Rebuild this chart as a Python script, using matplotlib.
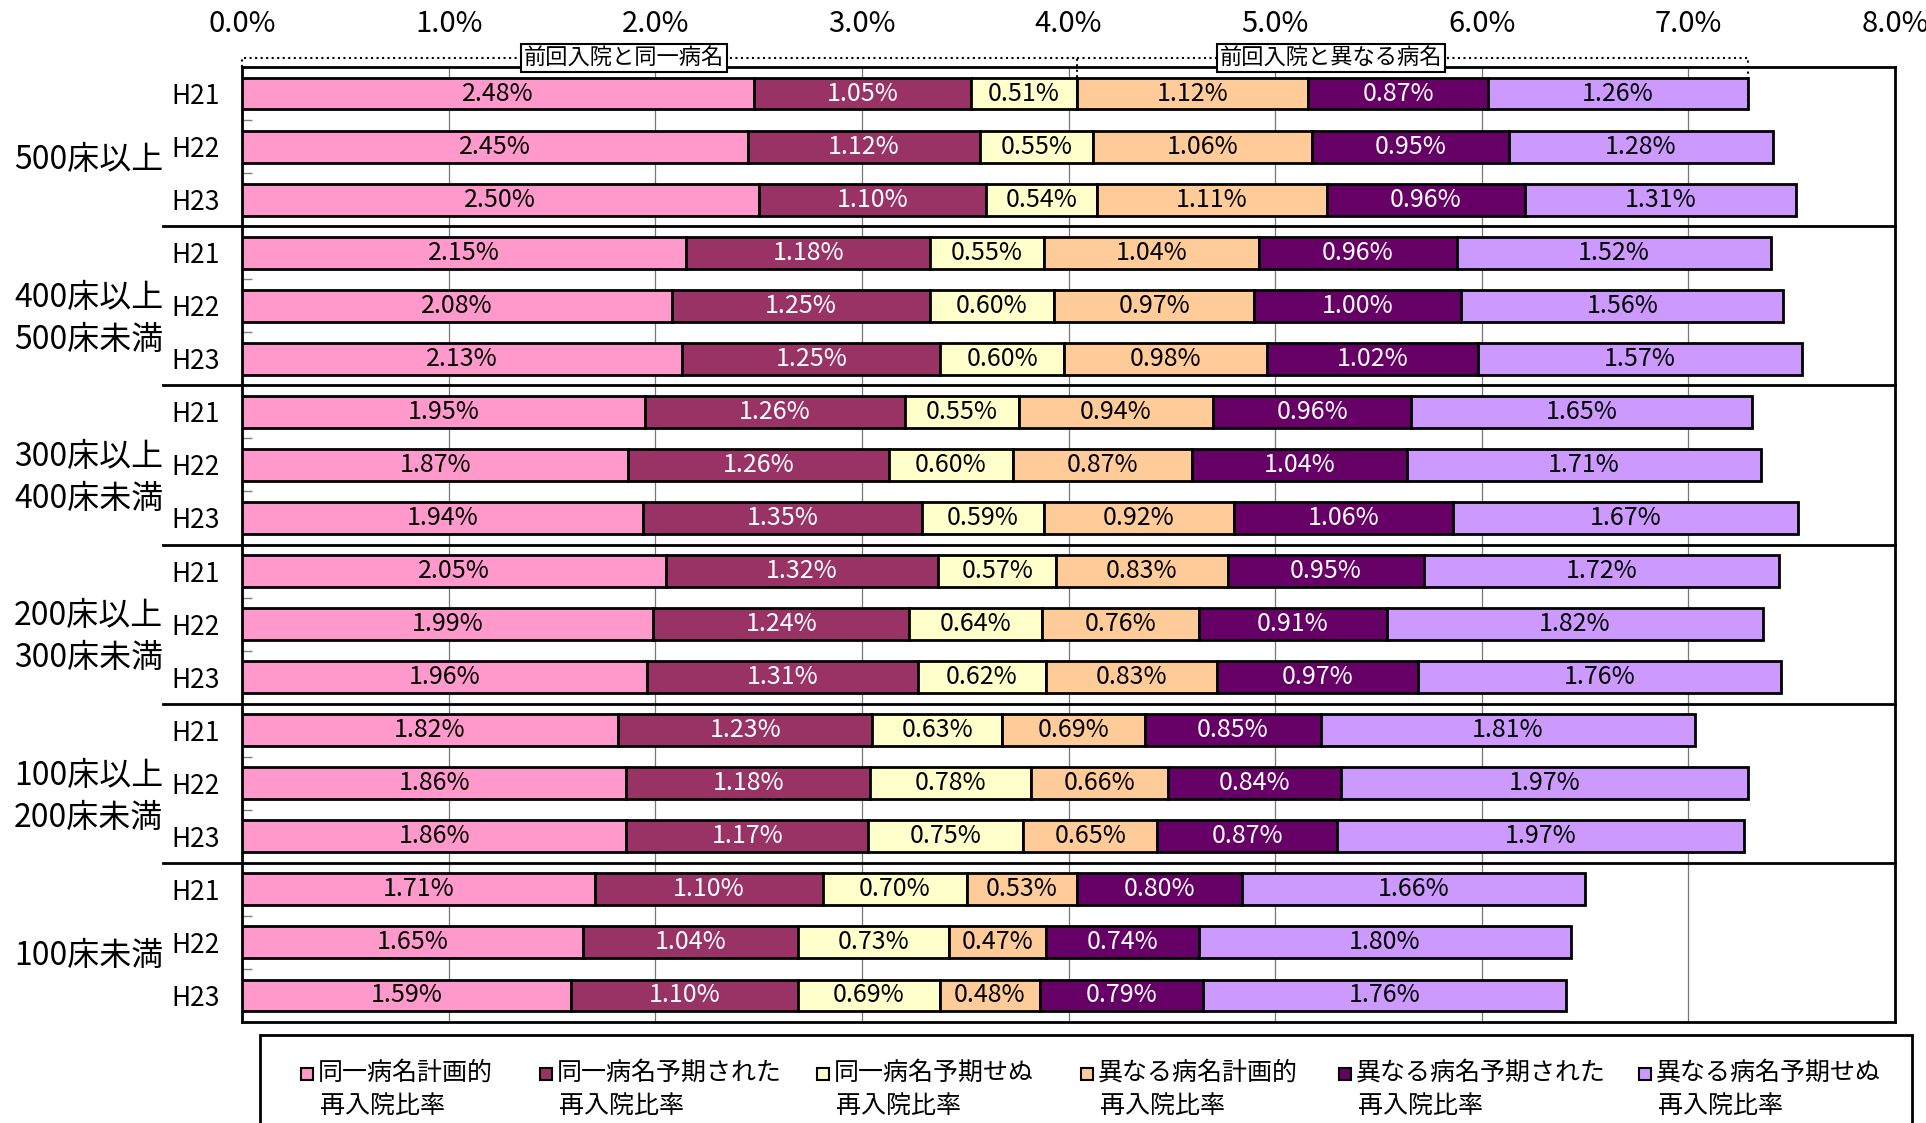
import numpy as np
import matplotlib as mpl
mpl.use('Agg')
import matplotlib.pyplot as plt
from matplotlib import font_manager
from matplotlib.patches import Rectangle

installed = {f.name for f in font_manager.fontManager.ttflist}
NARROW = 'Liberation Sans Narrow' if 'Liberation Sans Narrow' in installed else 'Noto Sans CJK JP'
plt.rcParams['font.family'] = ['Noto Sans CJK JP', 'DejaVu Sans']

groups = ['500床以上', '400床以上\n500床未満', '300床以上\n400床未満',
          '200床以上\n300床未満', '100床以上\n200床未満', '100床未満']
years = ['H21', 'H22', 'H23']
series = ['同一病名計画的\n再入院比率', '同一病名予期された\n再入院比率',
          '同一病名予期せぬ\n再入院比率', '異なる病名計画的\n再入院比率',
          '異なる病名予期された\n再入院比率', '異なる病名予期せぬ\n再入院比率']
colors = ['#FF99CC', '#993366', '#FFFFCC', '#FFCC99', '#660066', '#CC99FF']
text_colors = ['black', 'white', 'black', 'black', 'white', 'black']

# rows: each group H21, H22, H23 (values in %)
same_planned    = [2.48, 2.45, 2.50, 2.15, 2.08, 2.13, 1.95, 1.87, 1.94,
                   2.05, 1.99, 1.96, 1.82, 1.86, 1.86, 1.71, 1.65, 1.59]
same_expected   = [1.05, 1.12, 1.10, 1.18, 1.25, 1.25, 1.26, 1.26, 1.35,
                   1.32, 1.24, 1.31, 1.23, 1.18, 1.17, 1.10, 1.04, 1.10]
same_unexpected = [0.51, 0.55, 0.54, 0.55, 0.60, 0.60, 0.55, 0.60, 0.59,
                   0.57, 0.64, 0.62, 0.63, 0.78, 0.75, 0.70, 0.73, 0.69]
diff_planned    = [1.12, 1.06, 1.11, 1.04, 0.97, 0.98, 0.94, 0.87, 0.92,
                   0.83, 0.76, 0.83, 0.69, 0.66, 0.65, 0.53, 0.47, 0.48]
diff_expected   = [0.87, 0.95, 0.96, 0.96, 1.00, 1.02, 0.96, 1.04, 1.06,
                   0.95, 0.91, 0.97, 0.85, 0.84, 0.87, 0.80, 0.74, 0.79]
diff_unexpected = [1.26, 1.28, 1.31, 1.52, 1.56, 1.57, 1.65, 1.71, 1.67,
                   1.72, 1.82, 1.76, 1.81, 1.97, 1.97, 1.66, 1.80, 1.76]
values = np.array([same_planned, same_expected, same_unexpected,
                   diff_planned, diff_expected, diff_unexpected])

W, H = 1926, 1123
fig = plt.figure(figsize=(W/100, H/100), dpi=100)
ax = fig.add_axes([242/W, 1-1022/H, (1895-242)/W, (1022-67)/H])

n = values.shape[1]
y = np.arange(n)
left = np.zeros(n)
for i in range(6):
    bars = ax.barh(y, values[i], left=left, height=0.6, color=colors[i],
                   edgecolor='black', linewidth=2, zorder=3)
    ax.bar_label(bars, labels=[f'{v:.2f}%' for v in values[i]], label_type='center',
                 color=text_colors[i], fontsize=18, family=NARROW, zorder=4)
    left += values[i]

ax.set_xlim(0, 8)
ax.set_ylim(n-0.5, -0.5)
ax.xaxis.tick_top()
ax.set_xticks(np.arange(0, 9), labels=[f'{i:.1f}%' for i in range(9)],
              family=NARROW, fontsize=21)
ax.tick_params(axis='x', length=0, pad=20)
ax.set_yticks(y, labels=years*6, family=NARROW, fontsize=19)
ax.tick_params(axis='y', length=0, pad=16)
ax.set_yticks(np.arange(-0.5, n, 1), minor=True)
ax.tick_params(axis='y', which='minor', direction='in', length=7, width=1, color='gray')
ax.grid(axis='x', color='#777777', linewidth=0.9, zorder=0)
ax.set_axisbelow(True)
for s in ax.spines.values():
    s.set_linewidth(2)

# group separators and labels
ytr = ax.get_yaxis_transform()
for g in range(1, 6):
    ax.plot([-0.048, 1], [3*g-0.5]*2, transform=ytr, color='black', lw=2,
            clip_on=False, zorder=5)
for g, name in enumerate(groups):
    ax.text(-0.138, 3*g+1+0.25, name, transform=ytr, ha='left', va='center',
            fontsize=23, linespacing=1.4)

# brackets over the first row
s1 = values[:3, 0].sum()
tot = values[:, 0].sum()
yb = -0.67
ax.plot([0, 0, s1, s1], [-0.5, yb, yb, 0.3], ls=':', color='black', lw=1.5,
        clip_on=False, zorder=6)
ax.plot([s1, tot, tot], [yb, yb, 0.3], ls=':', color='black', lw=1.5,
        clip_on=False, zorder=6)
box = dict(boxstyle='square,pad=0.12', fc='white', ec='black', lw=1.5)
ax.text(1.85, yb, '前回入院と同一病名', ha='center', va='center', fontsize=16,
        bbox=box, zorder=7, clip_on=False)
ax.text(5.27, yb, '前回入院と異なる病名', ha='center', va='center', fontsize=16,
        bbox=box, zorder=7, clip_on=False)

# legend
fig.add_artist(Rectangle((260/W, -0.05), (1912-260)/W, 0.05+1-1035/H,
                         transform=fig.transFigure, fill=False, ec='black', lw=2))
leg_x = [301, 540, 817, 1081, 1339, 1639]
for i, xs in enumerate(leg_x):
    fig.add_artist(Rectangle((xs/W, 1-1080/H), 12/W, 12/H, transform=fig.transFigure,
                             fc=colors[i], ec='black', lw=1.5))
    first, second = series[i].split('\n')
    fig.text((xs+17)/W, 1-1073/H, first, ha='left', va='center', fontsize=18)
    fig.text((xs+19)/W, 1-1106/H, second, ha='left', va='center', fontsize=18)

fig.savefig('out.png', dpi=100)
